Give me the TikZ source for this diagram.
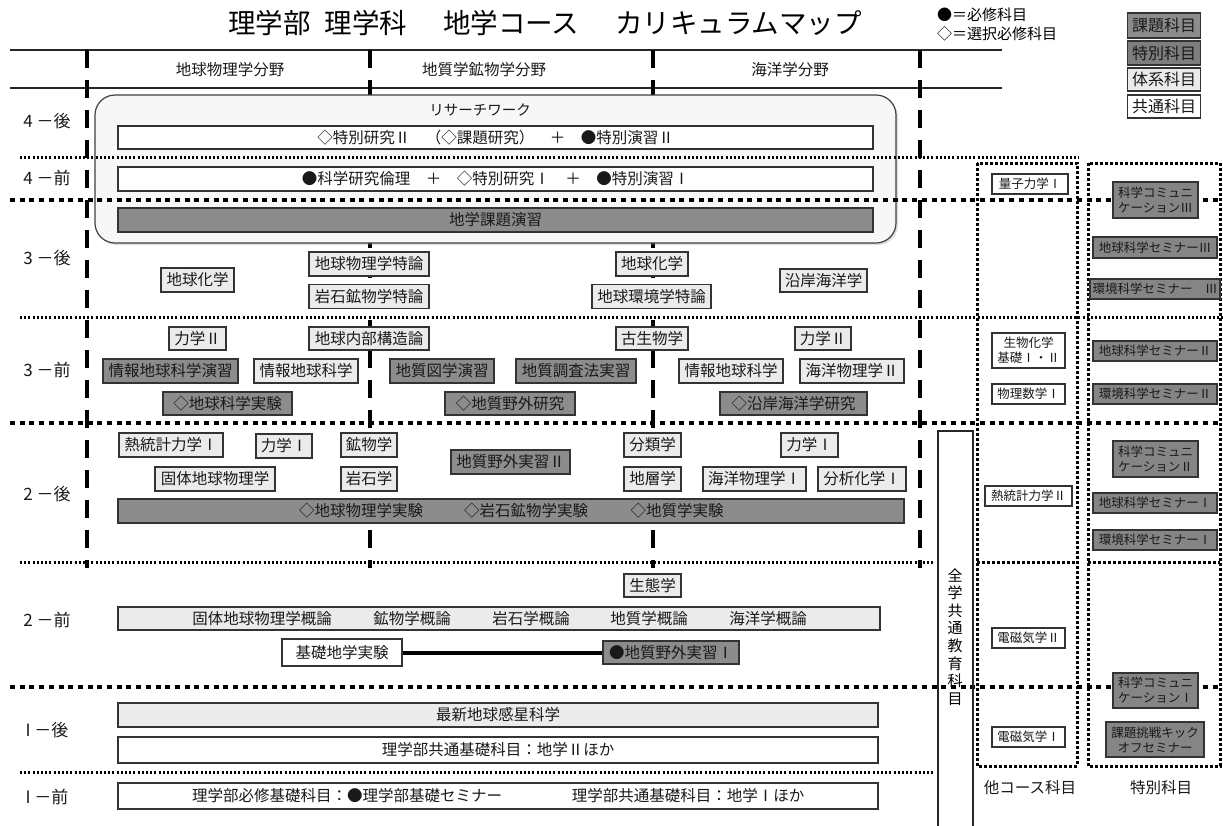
\documentclass[tikz,border=0pt]{standalone}
\usepackage{fontspec}
\setmainfont{Noto Sans CJK JP}
\usetikzlibrary{shadows}
\definecolor{dk}{HTML}{8C8C8C}
\definecolor{spc}{HTML}{858585}
\definecolor{spl}{HTML}{7E7E7E}
\definecolor{lt}{HTML}{EBEBEB}
\definecolor{rwf}{HTML}{F7F7F7}
\newcommand\fsz[2]{\fontsize{#1}{#2}\selectfont}
\tikzset{
  bx/.style={draw=black!80, line width=1.2pt, inner sep=0pt, minimum height=23pt, font=\fsz{15.5}{18}, text=black!90},
  kbox/.style={bx, fill=lt},
  wbox/.style={bx, fill=white},
  dbox/.style={bx, fill=dk},
  sbox/.style={bx, fill=spc},
  smallbox/.style={font=\fsz{12.5}{15}, minimum height=20pt, align=center},
  sdot/.style={line width=3pt, dash pattern=on 2pt off 2.2pt},
  bdot/.style={line width=4.5pt, dash pattern=on 5pt off 4.7pt},
  cdot/.style={line width=3pt, dash pattern=on 3pt off 2pt},
  vdash/.style={line width=4.5pt, dash pattern=on 18pt off 12pt},
  lbl/.style={inner sep=0pt, font=\fsz{15.5}{18}, text=black!90},
  rowlbl/.style={inner sep=0pt, font=\fsz{17}{20}, text=black!90},
}
\begin{document}
\begin{tikzpicture}[x=1pt, y=-1pt]
\useasboundingbox[fill=white] (0,0) rectangle (1223,825);

% title and legend
\node[inner sep=0pt, font=\fsz{27.5}{30}] (title) at (545,23) {理学部\hspace{14pt}理学科\hspace{36pt}地学コース\hspace{36pt}カリキュラムマップ};
\node[inner sep=0pt, anchor=west, font=\fsz{15}{17}] (leg1) at (937,15) {●＝必修科目};
\node[inner sep=0pt, anchor=west, font=\fsz{15}{17}] (leg2) at (937,34) {◇＝選択必修科目};
\node[dbox, font=\fsz{16}{18}, minimum width=73pt, minimum height=25pt] (lg1) at (1164,25.5) {課題科目};
\node[bx, fill=spl, font=\fsz{16}{18}, minimum width=73pt, minimum height=24pt] (lg2) at (1164,53) {特別科目};
\node[kbox, font=\fsz{16}{18}, minimum width=73pt, minimum height=23pt] (lg3) at (1164,79.5) {体系科目};
\node[wbox, font=\fsz{16}{18}, minimum width=73pt, minimum height=23pt] (lg4) at (1164,106.5) {共通科目};

% header lines
\draw[line width=1.3pt, black!85] (10,50) -- (1002,50);
\draw[line width=1.3pt, black!85] (10,88) -- (1002,88);
\node[lbl] (h1) at (230,70) {地球物理学分野};
\node[lbl] (h2) at (484,70) {地質学鉱物学分野};
\node[lbl] (h3) at (790,70) {海洋学分野};

% vertical dashed lines
\foreach \xx in {87,370,653,920} \draw[vdash] (\xx,50) -- (\xx,568);

% research work box
\node[draw=black!75, line width=1.2pt, fill=rwf, rounded corners=20pt, minimum width=801pt, minimum height=148pt, inner sep=0pt,
  drop shadow={opacity=0.25, shadow xshift=2pt, shadow yshift=-2pt}] (rw) at (495.5,169) {};
\node[lbl, font=\fsz{14.5}{17}] (rwl) at (480,110) {リサーチワーク};

% horizontal separators
\draw[sdot] (20,157) -- (1079,157);
\draw[bdot] (10,200) -- (1223,200);
\draw[sdot] (20,317) -- (1223,317);
\draw[bdot] (10,423) -- (1223,423);
\draw[sdot] (20,562) -- (934,562);
\draw[bdot] (10,687) -- (1223,687);
\draw[sdot] (20,772) -- (934,772);

% column dotted boxes
\draw[cdot] (977,163) rectangle (1077,766);
\draw[cdot] (1088,163) rectangle (1220,766);
\draw[cdot] (977,562) -- (1077,562);
\draw[cdot] (1088,562) -- (1220,562);

% zengaku box
\draw[line width=1.2pt, black!85] (938,826) -- (938,431) -- (973,431) -- (973,826);
\node[inner sep=0pt, align=center, font=\fsz{15}{17.6}] (zen) at (955,637) {全\\学\\共\\通\\教\\育\\科\\目};

% row labels
\node[rowlbl] (r1) at (47,121) {4 －後};
\node[rowlbl] (r2) at (47,178) {4 －前};
\node[rowlbl] (r3) at (47,258) {3 －後};
\node[rowlbl] (r4) at (47,370) {3 －前};
\node[rowlbl] (r5) at (47,494) {2 －後};
\node[rowlbl] (r6) at (47,620) {2 －前};
\node[rowlbl] (r7) at (47,730) {I －後};
\node[rowlbl] (r8) at (47,797) {I －前};

% year 4
\node[wbox, minimum width=755pt] (tk2) at (495.5,137.5) {◇特別研究Ⅱ　（◇課題研究）　＋　●特別演習Ⅱ};
\node[wbox, minimum width=755pt, minimum height=24pt] (tk1) at (495.5,179) {●科学研究倫理　＋　◇特別研究Ⅰ　＋　●特別演習Ⅰ};
\node[dbox, minimum width=755pt, minimum height=24pt] (kadai) at (495.5,220) {地学課題演習};

% 3-後
\node[kbox, minimum width=120pt, minimum height=24pt] (gbt) at (369,264) {地球物理学特論};
\node[kbox, minimum width=120pt, minimum height=24pt] (gkt) at (369,296.5) {岩石鉱物学特論};
\node[kbox, minimum width=73pt, minimum height=24pt] (gcL) at (197.5,280) {地球化学};
\node[kbox, minimum width=72pt, minimum height=24pt] (gcM) at (652,264) {地球化学};
\node[kbox, minimum width=119pt, minimum height=24pt] (gkk) at (651.5,296.5) {地球環境学特論};
\node[kbox, minimum width=87pt] (eng) at (823.5,280.5) {沿岸海洋学};

% 3-前
\node[kbox, minimum width=57pt] (rk2L) at (197.5,338.5) {力学Ⅱ};
\node[kbox, minimum width=120pt] (gnb) at (369,338.5) {地球内部構造論};
\node[kbox, minimum width=72pt] (kos) at (652,338.5) {古生物学};
\node[kbox, minimum width=56pt] (rk2R) at (823,338.5) {力学Ⅱ};
\node[dbox, minimum width=135pt, minimum height=24pt] (jen) at (170.5,371) {情報地球科学演習};
\node[kbox, minimum width=104pt, minimum height=24pt] (jgL) at (306,371) {情報地球科学};
\node[dbox, minimum width=104pt, minimum height=24pt] (czu) at (442,371) {地質図学演習};
\node[dbox, minimum width=120pt, minimum height=24pt] (cch) at (576,371) {地質調査法実習};
\node[kbox, minimum width=104pt, minimum height=24pt] (jgR) at (731,371) {情報地球科学};
\node[kbox, minimum width=104pt, minimum height=24pt] (kb2) at (852,371) {海洋物理学Ⅱ};
\node[dbox, minimum width=129pt] (gkj) at (227.5,403.5) {◇地球科学実験};
\node[dbox, minimum width=130pt] (cyk) at (510,403.5) {◇地質野外研究};
\node[dbox, minimum width=147pt] (ekk) at (793.5,403.5) {◇沿岸海洋学研究};

% 2-後
\node[kbox, minimum width=104pt, minimum height=24pt] (nt1) at (171,445) {熱統計力学Ⅰ};
\node[kbox, minimum width=56pt, minimum height=24pt] (rk1L) at (284,446) {力学Ⅰ};
\node[kbox, minimum width=56pt, minimum height=24pt] (kbt) at (369,445) {鉱物学};
\node[kbox, minimum width=57pt, minimum height=24pt] (brg) at (652.5,445) {分類学};
\node[kbox, minimum width=57pt, minimum height=24pt] (rk1R) at (809.5,445) {力学Ⅰ};
\node[dbox, minimum width=119pt, minimum height=24pt] (cy2) at (510.5,462) {地質野外実習Ⅱ};
\node[kbox, minimum width=120pt, minimum height=24pt] (kct) at (215,479) {固体地球物理学};
\node[kbox, minimum width=56pt, minimum height=24pt] (gss) at (369,479) {岩石学};
\node[kbox, minimum width=57pt, minimum height=24pt] (cso) at (652.5,479) {地層学};
\node[kbox, minimum width=103pt, minimum height=24pt] (kb1) at (754.5,479) {海洋物理学Ⅰ};
\node[kbox, minimum width=88pt, minimum height=24pt] (bk1) at (862,479) {分析化学Ⅰ};
\node[dbox, minimum width=786pt, minimum height=24pt] (jk) at (511,511) {};
\node[lbl] (jk1) at (361,511) {◇地球物理学実験};
\node[lbl] (jk2) at (526,511) {◇岩石鉱物学実験};
\node[lbl] (jk3) at (677,511) {◇地質学実験};

% 2-前
\node[kbox, minimum width=57pt] (sei) at (652.5,585.5) {生態学};
\node[kbox, minimum width=762pt] (gai) at (499,618.5) {};
\node[lbl] (g1) at (262,618.5) {固体地球物理学概論};
\node[lbl] (g2) at (412,618.5) {鉱物学概論};
\node[lbl] (g3) at (531,618.5) {岩石学概論};
\node[lbl] (g4) at (649,618.5) {地質学概論};
\node[lbl] (g5) at (768,618.5) {海洋学概論};
\node[wbox, minimum width=120pt, minimum height=27pt] (kiso) at (342,652.5) {基礎地学実験};
\node[dbox, minimum width=136pt] (cy1) at (671,652.5) {●地質野外実習Ⅰ};
\draw[line width=4pt] (kiso.east) -- (cy1.west);

% 1-後, 1-前
\node[kbox, minimum width=760pt, minimum height=24pt] (sai) at (498,715) {最新地球感星科学};
\node[wbox, minimum width=760pt, minimum height=26pt] (rk2) at (498,750) {理学部共通基礎科目：地学Ⅱほか};
\node[wbox, minimum width=760pt, minimum height=26pt] (rk1) at (498,796) {};
\node[lbl] (rk1a) at (347,796) {理学部必修基礎科目：●理学部基礎セミナー};
\node[lbl] (rk1b) at (688,796) {理学部共通基礎科目：地学Ⅰほか};

% other course column
\node[wbox, smallbox, minimum width=76pt] (ryo) at (1030,184) {量子力学Ⅰ};
\node[wbox, smallbox, minimum width=73pt, minimum height=35pt] (sbk) at (1028.5,350.5) {生物化学\\基礎Ⅰ・Ⅱ};
\node[wbox, smallbox, minimum width=73pt] (bsu) at (1028.5,394) {物理数学Ⅰ};
\node[wbox, smallbox, minimum width=87pt] (nt2) at (1028.5,496) {熱統計力学Ⅱ};
\node[wbox, smallbox, minimum width=73pt] (dj2) at (1028.5,638) {電磁気学Ⅱ};
\node[wbox, smallbox, minimum width=73pt] (dj1) at (1028.5,737) {電磁気学Ⅰ};
\node[lbl] (oth) at (1030,788) {他コース科目};

% special column
\node[sbox, smallbox, minimum width=85pt, minimum height=36pt] (kc3) at (1155.5,200) {科学コミュニ\\ケーションⅢ};
\node[sbox, smallbox, minimum width=124pt, minimum height=21pt] (gs3) at (1155,247.5) {地球科学セミナーⅢ};
\node[sbox, smallbox, minimum width=130pt] (ks3) at (1155,289) {環境科学セミナー　Ⅲ};
\node[sbox, smallbox, minimum width=124pt] (gs2) at (1155,351) {地球科学セミナーⅡ};
\node[sbox, smallbox, minimum width=124pt] (ks2) at (1155,394) {環境科学セミナーⅡ};
\node[sbox, smallbox, minimum width=85pt, minimum height=36pt] (kc2) at (1155.5,459) {科学コミュニ\\ケーションⅡ};
\node[sbox, smallbox, minimum width=124pt] (gs1) at (1155,503) {地球科学セミナーⅠ};
\node[sbox, smallbox, minimum width=124pt] (ks1) at (1155,540) {環境科学セミナーⅠ};
\node[sbox, smallbox, minimum width=85pt, minimum height=35pt] (kc1) at (1155.5,690.5) {科学コミュニ\\ケーションⅠ};
\node[sbox, smallbox, minimum width=98pt, minimum height=35pt] (kko) at (1155,739.5) {課題挑戦キック\\オフセミナー};
\node[lbl] (tok) at (1161,788) {特別科目};
\end{tikzpicture}
\end{document}
